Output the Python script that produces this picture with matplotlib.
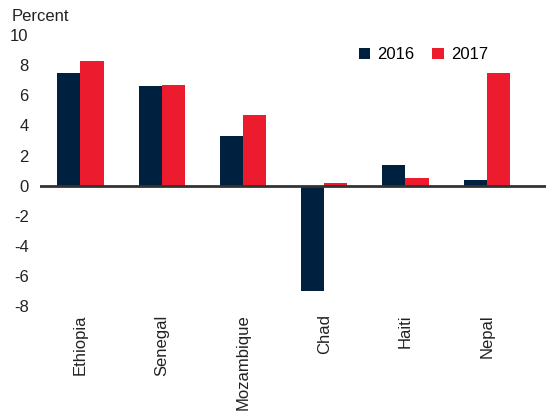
import numpy as np
import matplotlib
matplotlib.use("Agg")
import matplotlib.pyplot as plt

countries = ["Ethiopia", "Senegal", "Mozambique", "Chad", "Haiti", "Nepal"]
growth_2016 = [7.5, 6.6, 3.3, -7.0, 1.4, 0.4]
growth_2017 = [8.3, 6.7, 4.7, 0.2, 0.5, 7.5]
yticks = [10, 8, 6, 4, 2, 0, -2, -4, -6, -8]

navy = "#00203F"
red = "#EC1C2E"

plt.rcParams["font.family"] = ["Liberation Sans", "DejaVu Sans"]

fig = plt.figure(figsize=(5.46, 4.13), dpi=100)
ax = fig.add_axes([0.073, 0.259, 0.927, 0.656])

x = np.arange(len(countries))
w = 0.285
ax.bar(x - w / 2, growth_2016, w, color=navy, label="2016", zorder=2)
ax.bar(x + w / 2, growth_2017, w, color=red, label="2017", zorder=2)

ax.set_ylim(-8, 10)
ax.set_xlim(-0.5, 5.73)
ax.set_yticks(yticks)
ax.set_yticklabels([str(v) for v in yticks], fontsize=12, color="#222222")
ax.set_xticks(x)
ax.set_xticklabels(countries, rotation=90, fontsize=12, color="#222222")
ax.tick_params(axis="both", length=0, pad=6)
ax.tick_params(axis="y", pad=8)
for s in ax.spines.values():
    s.set_visible(False)
ax.axhline(0, color="#333333", lw=2, zorder=3)

fig.text(0.022, 0.943, "Percent", fontsize=12, color="#222222", va="bottom")

ax.legend(loc="upper left", bbox_to_anchor=(0.6, 1.01), ncol=2, frameon=False,
          fontsize=12, handlelength=0.7, handleheight=0.7, columnspacing=1.1,
          handletextpad=0.4)

fig.savefig("out.png", dpi=100)
